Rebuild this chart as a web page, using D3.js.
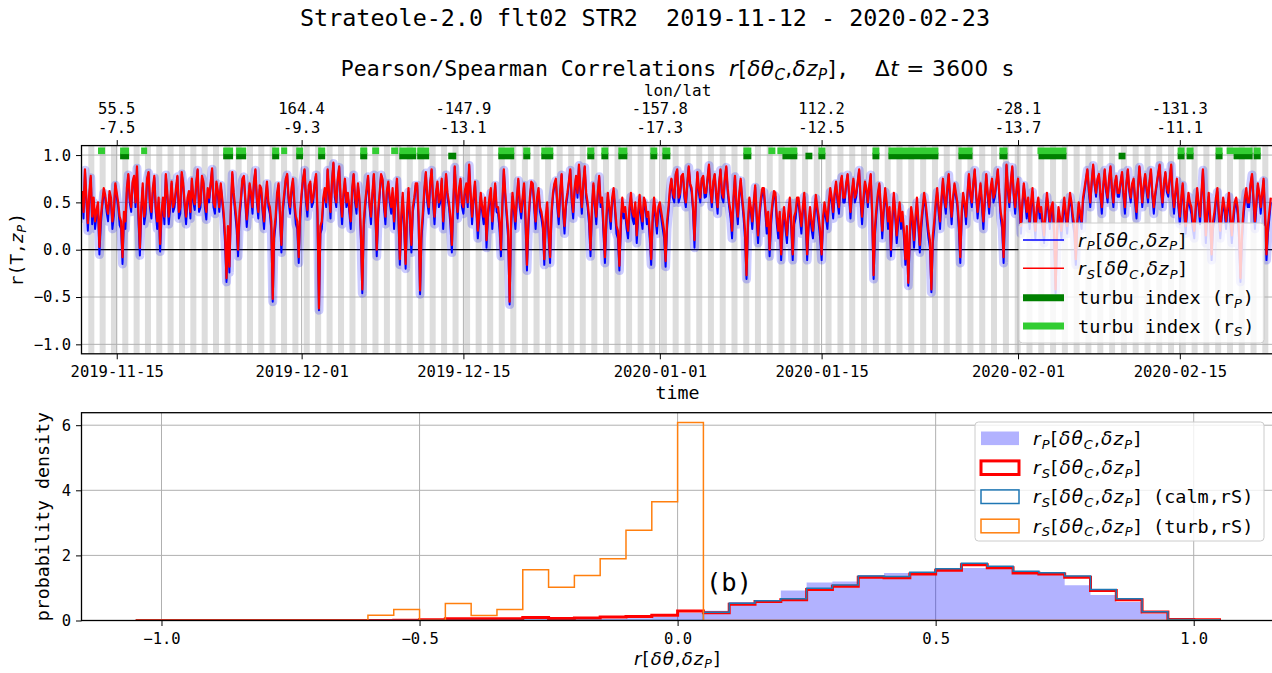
<!DOCTYPE html>
<html>
<head>
<meta charset="utf-8">
<script src="https://cdn.jsdelivr.net/npm/d3@7/dist/d3.min.js"></script>
<style>
  html, body { margin: 0; padding: 0; background: #fff; }
  svg { display: block; }
  svg text { white-space: pre; }
</style>
</head>
<body>
<svg id="fig" width="1272" height="673"></svg>
<script>
// ---------------- data ----------------
// 3-hourly correlation estimates starting 2019-11-12 00:00 UTC (one row = one day)
const seriesStart = "2019-11-12T00:00:00Z";
const seriesStepHours = 3;

// Spearman r_S[δθ_C, δz_P]
const rS = [
  0.62,0.40,0.85,0.55,0.28,0.60,0.78,0.35,
  0.55,0.30,0.42,0.50,0.03,0.35,0.50,0.65,
  0.58,0.45,0.38,0.62,0.55,0.30,0.42,0.70,
  0.60,0.50,0.35,0.30,-0.08,0.40,0.30,0.65,
  0.80,0.55,0.45,0.72,0.78,0.50,0.88,0.40,
  0.02,0.45,0.70,0.35,0.45,0.75,0.82,0.50,
  0.40,0.65,0.78,0.45,0.30,0.55,0.06,0.40,
  0.55,0.35,0.80,0.60,0.35,0.50,0.72,0.45,
  0.50,0.65,0.78,0.40,0.45,0.82,0.70,0.50,
  0.35,0.55,0.62,0.40,0.75,0.55,0.48,0.70,
  0.85,0.45,0.50,0.78,0.72,0.50,0.40,0.65,
  0.55,0.70,0.86,0.50,0.45,0.72,0.62,0.45,
  0.70,0.55,0.40,0.15,-0.30,0.25,-0.18,0.45,
  0.82,0.60,0.45,0.30,0.00,0.40,0.55,0.75,
  0.78,0.55,0.32,0.50,0.70,0.60,0.45,0.72,
  0.85,0.55,0.40,0.68,0.65,0.45,0.30,0.55,
  0.72,0.50,0.45,0.30,-0.52,0.20,0.35,0.60,
  0.70,0.40,0.05,0.45,0.60,0.75,0.80,0.55,
  0.45,0.65,0.75,0.50,0.35,0.30,-0.08,0.40,
  0.60,0.75,0.85,0.55,0.42,0.68,0.72,0.50,
  0.55,0.70,0.80,0.40,-0.62,0.25,0.30,0.55,
  0.65,0.50,0.85,0.60,0.40,0.72,0.92,0.60,
  0.50,0.75,0.88,0.55,0.35,0.60,0.75,0.50,
  0.60,0.45,0.30,0.65,0.80,0.55,0.45,0.70,
  0.55,0.20,-0.42,0.30,0.50,0.65,0.78,0.50,
  0.35,0.60,0.80,0.45,0.00,0.40,0.60,0.80,
  0.75,0.50,0.35,0.62,0.72,0.55,0.45,0.65,
  0.30,0.55,0.75,0.40,-0.10,0.35,0.60,0.30,
  -0.15,0.40,0.65,0.35,0.05,0.45,0.55,0.70,
  0.70,0.35,-0.43,0.20,0.40,0.65,0.82,0.55,
  0.45,0.70,0.85,0.55,0.35,0.60,0.72,0.50,
  0.55,0.75,0.30,0.55,0.80,0.60,0.50,0.35,
  0.05,0.50,0.88,0.60,0.40,0.65,0.75,0.50,
  0.45,0.62,0.70,0.50,0.90,0.60,0.35,0.55,
  0.72,0.45,0.20,0.40,0.60,0.45,0.35,0.55,
  0.10,0.40,0.55,0.65,0.30,0.50,0.70,0.45,
  0.45,0.30,0.00,0.50,0.85,0.60,0.40,0.20,
  -0.55,0.30,0.60,0.45,0.30,0.55,0.75,0.50,
  0.40,0.55,0.70,0.35,-0.16,0.30,0.55,0.72,
  0.70,0.50,0.30,0.55,0.65,0.45,0.40,0.30,
  -0.10,0.35,0.50,0.20,-0.08,0.40,0.60,0.70,
  0.75,0.50,0.35,0.62,0.80,0.45,0.25,0.50,
  0.60,0.72,0.85,0.55,0.40,0.65,0.78,0.60,
  0.90,0.65,0.45,0.70,0.88,0.60,0.50,0.35,
  0.00,0.45,0.70,0.50,0.35,0.60,0.78,0.50,
  0.55,0.25,-0.08,0.35,0.60,0.45,0.30,0.55,
  0.65,0.45,0.25,0.20,-0.17,0.30,0.55,0.40,
  0.45,0.30,0.20,0.45,0.60,0.40,0.35,0.50,
  0.15,0.40,0.58,0.40,0.30,0.55,0.50,0.35,
  0.40,0.20,-0.10,0.35,0.55,0.40,0.25,0.45,
  0.50,0.40,0.30,0.20,-0.12,0.30,0.45,0.65,
  0.75,0.60,0.55,0.80,0.85,0.55,0.60,0.78,
  0.80,0.60,0.50,0.70,0.88,0.70,0.65,0.45,
  0.10,0.55,0.82,0.65,0.55,0.75,0.78,0.60,
  0.60,0.75,0.90,0.65,0.50,0.72,0.80,0.60,
  0.45,0.70,0.85,0.60,0.55,0.75,0.88,0.65,
  0.50,0.40,0.20,0.55,0.78,0.50,0.35,0.60,
  0.75,0.55,0.40,0.20,-0.27,0.30,0.55,0.45,
  0.30,0.50,0.68,0.40,0.15,0.40,0.55,0.65,
  0.65,0.45,0.25,0.40,0.00,0.35,0.50,0.62,
  0.60,0.35,0.20,0.40,-0.05,0.30,0.45,0.30,
  0.15,0.40,0.55,0.30,-0.05,0.35,0.40,0.55,
  0.55,0.40,0.25,0.45,0.60,0.35,-0.05,0.30,
  0.45,0.30,0.20,0.40,0.58,0.45,0.35,0.20,
  -0.05,0.35,0.50,0.40,0.30,0.50,0.65,0.55,
  0.40,0.60,0.72,0.55,0.45,0.70,0.78,0.55,
  0.55,0.70,0.80,0.60,0.40,0.62,0.75,0.55,
  0.60,0.72,0.85,0.55,0.35,0.55,0.72,0.65,
  0.50,0.68,0.80,0.40,-0.27,0.25,0.45,0.60,
  0.70,0.45,0.20,0.45,0.65,0.50,0.30,0.45,
  0.00,0.35,0.60,0.40,0.15,0.35,0.50,0.30,
  0.40,0.20,-0.10,0.25,-0.35,0.15,0.45,0.35,
  0.10,0.35,0.55,0.30,0.05,0.30,0.45,0.60,
  0.50,0.35,0.20,0.10,-0.42,0.15,0.30,0.50,
  0.65,0.45,0.30,0.55,0.75,0.55,0.45,0.65,
  0.80,0.55,0.35,0.55,0.70,0.60,0.50,0.30,
  -0.08,0.40,0.60,0.50,0.35,0.60,0.80,0.60,
  0.50,0.70,0.85,0.60,0.40,0.55,0.70,0.50,
  0.30,0.55,0.80,0.60,0.45,0.65,0.75,0.55,
  0.60,0.72,0.85,0.60,0.40,0.30,-0.08,0.45,
  0.90,0.65,0.50,0.72,0.88,0.60,0.45,0.65,
  0.75,0.50,0.25,0.50,0.70,0.55,0.40,0.55,
  0.30,0.50,0.65,0.40,0.20,0.45,0.55,0.40,
  0.45,0.30,0.15,0.40,0.60,0.45,0.30,0.45,
  0.50,0.20,-0.42,0.20,0.45,0.35,0.20,0.40,
  0.55,0.40,0.25,0.45,0.60,0.50,0.35,0.25,
  -0.10,0.30,0.50,0.40,0.30,0.55,0.65,0.75,
  0.85,0.65,0.50,0.72,0.90,0.70,0.60,0.75,
  0.80,0.60,0.45,0.68,0.85,0.65,0.55,0.75,
  0.88,0.65,0.50,0.70,0.78,0.60,0.60,0.72,
  0.82,0.60,0.45,0.70,0.85,0.65,0.55,0.70,
  0.75,0.55,0.40,0.65,0.88,0.70,0.50,0.68,
  0.80,0.65,0.55,0.72,0.85,0.60,0.45,0.60,
  0.70,0.80,0.90,0.65,0.50,0.70,0.82,0.65,
  0.60,0.75,0.90,0.60,0.45,0.62,0.75,0.50,
  0.35,0.55,0.70,0.45,0.25,0.45,0.60,0.50,
  0.45,0.30,0.20,0.45,0.65,0.50,0.35,0.60,
  0.85,0.50,0.15,0.40,0.60,0.35,-0.05,0.30,
  0.40,0.55,0.65,0.40,0.20,0.40,0.55,0.45,
  0.30,0.45,0.60,0.35,0.15,0.35,0.50,0.55,
  0.45,0.20,-0.30,0.15,0.40,0.55,0.65,0.50,
  0.50,0.70,0.80,0.55,0.30,0.50,0.70,0.60,
  0.45,0.60,0.75,0.40,-0.05,0.25,0.40,0.55
];

// Pearson r_P[δθ_C, δz_P]
const rP = [
  0.60,0.33,0.84,0.50,0.20,0.55,0.76,0.27,
  0.50,0.22,0.36,0.45,-0.05,0.27,0.46,0.60,
  0.55,0.40,0.30,0.58,0.50,0.22,0.36,0.68,
  0.56,0.45,0.26,0.22,-0.15,0.33,0.22,0.60,
  0.79,0.50,0.40,0.70,0.77,0.45,0.86,0.33,
  -0.06,0.40,0.66,0.27,0.38,0.73,0.81,0.45,
  0.33,0.60,0.76,0.40,0.22,0.50,-0.02,0.33,
  0.50,0.27,0.79,0.55,0.27,0.45,0.70,0.40,
  0.45,0.60,0.77,0.33,0.38,0.80,0.67,0.45,
  0.27,0.50,0.58,0.33,0.73,0.50,0.42,0.68,
  0.84,0.40,0.45,0.76,0.70,0.45,0.32,0.60,
  0.50,0.68,0.85,0.45,0.38,0.70,0.58,0.40,
  0.68,0.50,0.33,0.07,-0.34,0.17,-0.24,0.40,
  0.80,0.55,0.38,0.22,-0.07,0.33,0.50,0.73,
  0.77,0.50,0.24,0.45,0.68,0.55,0.38,0.70,
  0.84,0.50,0.33,0.64,0.61,0.40,0.22,0.50,
  0.70,0.45,0.38,0.22,-0.55,0.12,0.27,0.55,
  0.68,0.33,-0.03,0.40,0.55,0.73,0.79,0.50,
  0.38,0.60,0.73,0.45,0.27,0.22,-0.14,0.33,
  0.56,0.73,0.84,0.50,0.35,0.64,0.70,0.45,
  0.50,0.68,0.79,0.33,-0.64,0.17,0.22,0.50,
  0.61,0.45,0.84,0.55,0.33,0.70,0.91,0.55,
  0.45,0.73,0.87,0.50,0.27,0.55,0.73,0.45,
  0.56,0.40,0.22,0.60,0.79,0.50,0.38,0.68,
  0.50,0.12,-0.46,0.22,0.45,0.60,0.77,0.45,
  0.27,0.55,0.79,0.40,-0.07,0.33,0.56,0.79,
  0.73,0.45,0.27,0.58,0.70,0.50,0.38,0.60,
  0.22,0.50,0.73,0.33,-0.16,0.27,0.56,0.22,
  -0.20,0.33,0.61,0.27,-0.03,0.40,0.50,0.68,
  0.68,0.27,-0.47,0.12,0.33,0.60,0.81,0.50,
  0.38,0.68,0.84,0.50,0.27,0.55,0.70,0.45,
  0.50,0.73,0.22,0.50,0.79,0.55,0.45,0.27,
  -0.03,0.45,0.87,0.55,0.33,0.60,0.73,0.45,
  0.38,0.58,0.68,0.45,0.89,0.55,0.27,0.50,
  0.70,0.40,0.12,0.33,0.56,0.40,0.27,0.50,
  0.02,0.33,0.50,0.60,0.22,0.45,0.68,0.40,
  0.38,0.22,-0.07,0.45,0.84,0.55,0.33,0.12,
  -0.58,0.22,0.56,0.40,0.22,0.50,0.73,0.45,
  0.33,0.50,0.68,0.27,-0.22,0.22,0.50,0.70,
  0.68,0.45,0.22,0.50,0.61,0.40,0.33,0.22,
  -0.16,0.27,0.45,0.12,-0.14,0.33,0.56,0.68,
  0.73,0.45,0.27,0.58,0.79,0.40,0.17,0.45,
  0.56,0.70,0.84,0.50,0.33,0.60,0.77,0.55,
  0.89,0.60,0.38,0.68,0.87,0.55,0.45,0.27,
  -0.07,0.40,0.68,0.45,0.27,0.55,0.77,0.45,
  0.50,0.17,-0.14,0.27,0.56,0.40,0.22,0.50,
  0.61,0.40,0.17,0.12,-0.22,0.22,0.50,0.33,
  0.38,0.22,0.12,0.40,0.56,0.33,0.27,0.45,
  0.07,0.33,0.53,0.33,0.22,0.50,0.45,0.27,
  0.33,0.12,-0.16,0.27,0.50,0.33,0.17,0.40,
  0.45,0.33,0.22,0.12,-0.18,0.22,0.40,0.60,
  0.74,0.55,0.50,0.79,0.84,0.50,0.56,0.77,
  0.79,0.55,0.45,0.68,0.87,0.68,0.61,0.40,
  0.02,0.50,0.81,0.60,0.50,0.73,0.77,0.55,
  0.56,0.73,0.89,0.60,0.45,0.70,0.79,0.55,
  0.38,0.68,0.84,0.55,0.50,0.73,0.87,0.60,
  0.45,0.33,0.12,0.50,0.77,0.45,0.27,0.55,
  0.73,0.50,0.33,0.12,-0.31,0.22,0.50,0.40,
  0.22,0.45,0.66,0.33,0.07,0.33,0.50,0.60,
  0.61,0.40,0.17,0.33,-0.07,0.27,0.45,0.58,
  0.56,0.27,0.12,0.33,-0.11,0.22,0.40,0.22,
  0.07,0.33,0.50,0.22,-0.11,0.27,0.33,0.50,
  0.50,0.33,0.17,0.40,0.56,0.27,-0.11,0.22,
  0.38,0.22,0.12,0.33,0.54,0.40,0.27,0.12,
  -0.11,0.27,0.45,0.33,0.22,0.45,0.61,0.50,
  0.33,0.56,0.70,0.50,0.38,0.68,0.77,0.50,
  0.50,0.68,0.79,0.56,0.33,0.58,0.73,0.50,
  0.56,0.70,0.84,0.50,0.27,0.50,0.70,0.61,
  0.45,0.64,0.79,0.33,-0.31,0.17,0.38,0.56,
  0.68,0.40,0.12,0.40,0.61,0.45,0.22,0.40,
  -0.07,0.27,0.56,0.33,0.07,0.27,0.45,0.22,
  0.33,0.12,-0.16,0.17,-0.38,0.07,0.40,0.27,
  0.02,0.27,0.50,0.22,-0.03,0.22,0.40,0.56,
  0.45,0.27,0.12,0.02,-0.45,0.07,0.22,0.45,
  0.61,0.40,0.22,0.50,0.73,0.50,0.38,0.61,
  0.79,0.50,0.27,0.50,0.68,0.56,0.45,0.22,
  -0.14,0.33,0.56,0.45,0.27,0.56,0.79,0.56,
  0.45,0.68,0.84,0.56,0.33,0.50,0.68,0.45,
  0.22,0.50,0.79,0.56,0.38,0.61,0.73,0.50,
  0.56,0.70,0.84,0.56,0.33,0.22,-0.14,0.40,
  0.89,0.61,0.45,0.70,0.87,0.56,0.38,0.61,
  0.73,0.45,0.17,0.45,0.68,0.50,0.33,0.50,
  0.22,0.45,0.61,0.33,0.12,0.40,0.50,0.33,
  0.38,0.22,0.07,0.33,0.56,0.40,0.22,0.40,
  0.45,0.12,-0.46,0.12,0.38,0.27,0.12,0.33,
  0.50,0.33,0.17,0.40,0.56,0.45,0.27,0.17,
  -0.16,0.22,0.45,0.33,0.22,0.50,0.61,0.73,
  0.84,0.61,0.45,0.70,0.89,0.68,0.56,0.73,
  0.79,0.56,0.38,0.64,0.84,0.61,0.50,0.73,
  0.87,0.61,0.45,0.68,0.77,0.56,0.56,0.70,
  0.81,0.56,0.38,0.68,0.84,0.61,0.50,0.68,
  0.73,0.50,0.33,0.61,0.87,0.68,0.45,0.64,
  0.79,0.61,0.50,0.70,0.84,0.56,0.38,0.56,
  0.68,0.79,0.89,0.61,0.45,0.68,0.81,0.61,
  0.56,0.73,0.89,0.56,0.38,0.58,0.73,0.45,
  0.27,0.50,0.68,0.40,0.17,0.40,0.56,0.45,
  0.38,0.22,0.12,0.40,0.61,0.45,0.27,0.56,
  0.84,0.45,0.07,0.33,0.56,0.27,-0.11,0.22,
  0.33,0.50,0.61,0.33,0.12,0.33,0.50,0.40,
  0.22,0.40,0.56,0.27,0.07,0.27,0.45,0.50,
  0.38,0.12,-0.34,0.07,0.33,0.50,0.61,0.45,
  0.45,0.68,0.79,0.50,0.22,0.45,0.68,0.56,
  0.38,0.56,0.73,0.33,-0.11,0.17,0.33,0.50
];

// turbulence episodes, [start, end] in days since 2019-11-12 00:00 UTC
const turbRP = [
  [3.29,4.07],[12.21,13.07],[13.33,14.20],[16.45,17.06],[18.53,19.13],[20.43,21.04],
  [24.07,24.68],[27.45,28.92],[29.00,30.04],[31.69,32.38],[36.02,37.40],[38.18,38.79],
  [39.74,40.78],[43.72,44.33],[44.94,45.54],[46.41,47.19],[49.18,49.78],[50.22,50.91],
  [57.23,57.92],[60.61,61.90],[62.60,63.20],[63.72,64.33],[68.40,69.00],[69.78,74.11],
  [75.84,77.06],[79.39,80.09],[82.77,85.19],[89.70,90.30],[94.81,95.41],[95.58,96.19],
  [98.10,98.70],[99.65,101.30],[101.39,102.00]
];
const turbRS = [
  [1.38,1.99],[3.29,4.07],[5.11,5.63],[12.21,13.07],[13.33,14.20],[16.45,17.06],
  [17.23,17.75],[18.53,19.13],[20.43,21.04],[24.07,24.68],[25.11,25.71],[26.75,27.36],
  [27.45,28.92],[29.00,30.04],[36.02,37.40],[38.18,38.79],[39.74,40.78],[43.72,44.33],
  [44.94,45.54],[46.41,47.19],[49.18,49.78],[50.22,50.91],[57.23,57.92],[59.39,60.00],
  [60.17,61.90],[63.72,64.33],[68.40,69.00],[69.78,74.11],[75.84,77.06],[79.39,80.09],
  [82.68,85.19],[94.81,95.41],[95.58,96.19],[98.10,98.70],[99.05,101.30],[101.39,102.00]
];

// night-time periods at the balloon position (start, days since 2019-11-12 00:00 UTC)
const nightStart = [
  0.54,1.52,2.50,3.48,4.46,5.44,6.42,7.40,8.39,9.37,10.35,11.33,12.31,13.29,14.27,15.25,
  16.23,17.22,18.20,19.18,20.17,21.16,22.15,23.14,24.14,25.13,26.12,27.11,28.10,29.09,
  30.08,31.07,32.06,33.06,34.06,35.06,36.06,37.06,38.06,39.07,40.07,41.07,42.07,43.07,
  44.07,45.08,46.08,47.08,48.08,49.08,50.09,51.11,52.13,53.15,54.16,55.18,56.20,57.22,
  58.23,59.25,60.27,61.29,62.31,63.32,64.34,65.37,66.39,67.41,68.44,69.46,70.48,71.50,
  72.53,73.55,74.57,75.60,76.62,77.64,78.66,79.69,80.71,81.73,82.75,83.77,84.79,85.81,
  86.83,87.86,88.88,89.90,90.92,91.94,92.96,93.98,95.00,96.02,97.04,98.06,99.08,100.10,
  101.12,102.14
];
const nightLength = 0.52;

// time axis ticks and balloon position at those dates
const dateTicks = ["2019-11-15","2019-12-01","2019-12-15","2020-01-01","2020-01-15","2020-02-01","2020-02-15"];
const lonLabels = ["55.5","164.4","-147.9","-157.8","112.2","-28.1","-131.3"];
const latLabels = ["-7.5","-9.3","-13.1","-17.3","-12.5","-13.7","-11.1"];
const rTicks = [-1.0, -0.5, 0.0, 0.5, 1.0];

// histograms (probability density), bins of 0.05 from -1.05 to 1.05
const histEdges = [
  -1.05,-1.00,-0.95,-0.90,-0.85,-0.80,-0.75,-0.70,-0.65,-0.60,-0.55,-0.50,-0.45,-0.40,-0.35,
  -0.30,-0.25,-0.20,-0.15,-0.10,-0.05,0.00,0.05,0.10,0.15,0.20,0.25,0.30,0.35,0.40,0.45,
  0.50,0.55,0.60,0.65,0.70,0.75,0.80,0.85,0.90,0.95,1.00,1.05
];
const pdfRP = [
  0,0,0,0,0,0,0,0,0,0.00,0.01,0.02,0.03,0.02,0.03,0.04,0.03,0.04,0.05,0.07,0.12,
  0.24,0.30,0.57,0.62,0.92,1.17,1.20,1.40,1.46,1.49,1.52,1.61,1.58,1.48,1.45,1.08,0.78,0.57,0.21,0.02,0.00
];
const pdfRS = [
  0,0,0,0,0,0,0,0,0,0.00,0.01,0.02,0.05,0.05,0.05,0.09,0.06,0.08,0.11,0.12,0.16,
  0.29,0.24,0.50,0.58,0.64,0.95,1.05,1.33,1.31,1.43,1.54,1.71,1.62,1.46,1.43,1.33,0.92,0.64,0.26,0.03,0.02
];
const pdfCalm = [
  0,0,0,0,0,0,0,0,0,0,0,0,0,0,0,0,0,0,0,0,0,
  0,0.25,0.53,0.61,0.67,0.99,1.09,1.37,1.35,1.48,1.59,1.76,1.67,1.51,1.47,1.37,0.95,0.67,0.27,0.03,0.02
];
const pdfTurb = [
  0,0,0,0,0,0,0,0,0,0.16,0.34,0.00,0.52,0.15,0.34,1.56,1.02,1.38,1.90,2.77,3.65,
  6.08,0,0,0,0,0,0,0,0,0,0,0,0,0,0,0,0,0,0,0,0
];
const corrTicks = [-1.0, -0.5, 0.0, 0.5, 1.0];
const densTicks = [0, 2, 4, 6];

// ---------------- drawing ----------------
const fig = d3.select("#fig");
const MONO = "DejaVu Sans Mono", MATH = "DejaVu Sans";
const GRID = "#b0b0b0";

const A1 = {l: 81.5, r: 1273.7, t: 145.6, b: 353.8};
const A2 = {l: 81.5, r: 1273.7, t: 412.7, b: 620.5};

const origin = Date.parse(seriesStart);
const DAY = 864e5;
const atDay = d => new Date(origin + d * DAY);
const parseDay = d3.utcParse("%Y-%m-%d");

const xT = d3.scaleUtc()
  .domain([new Date(Date.UTC(2019, 10, 11, 22, 48)), new Date(Date.UTC(2020, 1, 23, 3, 0))])
  .range([A1.l, A1.r]);
const yR = d3.scaleLinear().domain([-1.1, 1.1]).range([A1.b, A1.t]);
const xH = d3.scaleLinear().domain([-1.155, 1.155]).range([A2.l, A2.r]);
const yH = d3.scaleLinear().domain([0, 6.384]).range([A2.b, A2.t]);

// rich text: segments of monospace / math (DejaVu Sans) with italics and subscripts
function rich(text, segs, size, spacing = 0.06) {
  let shift = 0;
  segs.forEach(s => {
    const ts = text.append("tspan").text(s.t)
      .attr("font-family", s.m ? MATH : MONO)
      .attr("font-style", s.i ? "italic" : "normal")
      .attr("font-size", s.sub ? size * 0.7 : size);
    if (s.m) ts.attr("letter-spacing", (size * spacing).toFixed(2));
    const target = s.sub ? size * 0.2 : 0;
    if (target !== shift) { ts.attr("dy", target - shift); shift = target; }
  });
  return text;
}
const corrLabel = sub => {
  const head = [{t: "r", m: 1, i: 1}];
  if (sub) head.push({t: sub, m: 1, i: 1, sub: 1});
  return head.concat([
    {t: "[", m: 1}, {t: "δθ", m: 1, i: 1}, {t: "C", m: 1, i: 1, sub: 1},
    {t: ",", m: 1}, {t: "δz", m: 1, i: 1}, {t: "P", m: 1, i: 1, sub: 1}, {t: "]", m: 1}
  ]);
};

function styleAxis(g, size) {
  g.select(".domain").remove();
  g.attr("font-family", MONO).attr("font-size", size);
  g.selectAll(".tick line").attr("stroke", "#000").attr("stroke-width", 1);
  g.selectAll(".tick text").attr("fill", "#000");
}

// ---- titles ----
fig.append("text").attr("x", 645).attr("y", 26).attr("text-anchor", "middle")
  .attr("font-family", MONO).attr("font-size", 23.4)
  .text("Strateole-2.0 flt02 STR2  2019-11-12 - 2020-02-23");

rich(fig.append("text").attr("x", (A1.l + A1.r) / 2).attr("y", 75.5).attr("text-anchor", "middle"),
  [{t: "Pearson/Spearman Correlations "}].concat(corrLabel(null)).concat([
    {t: ",  "}, {t: "Δ", m: 1}, {t: "t", m: 1, i: 1}, {t: " = 3600", m: 1}, {t: " s"}
  ]), 21.5, 0.02);

// ---- top panel: time series ----
const defs = fig.append("defs");
defs.append("clipPath").attr("id", "clipTop").append("rect")
  .attr("x", A1.l).attr("y", A1.t).attr("width", A1.r - A1.l).attr("height", A1.b - A1.t);
defs.append("clipPath").attr("id", "clipBot").append("rect")
  .attr("x", A2.l).attr("y", A2.t).attr("width", A2.r - A2.l).attr("height", A2.b - A2.t);

const gTop = fig.append("g").attr("clip-path", "url(#clipTop)");

// night shading
gTop.selectAll("rect.night").data(nightStart).join("rect").attr("class", "night")
  .attr("x", d => xT(atDay(d)))
  .attr("width", d => xT(atDay(d + nightLength)) - xT(atDay(d)))
  .attr("y", A1.t).attr("height", A1.b - A1.t)
  .attr("fill", "#dddddd");

const dateVals = dateTicks.map(parseDay);
// grid
gTop.selectAll("line.gx").data(dateVals).join("line")
  .attr("x1", d => xT(d)).attr("x2", d => xT(d)).attr("y1", A1.t).attr("y2", A1.b)
  .attr("stroke", GRID).attr("stroke-width", 1);
gTop.selectAll("line.gy").data(rTicks).join("line")
  .attr("x1", A1.l).attr("x2", A1.r).attr("y1", d => yR(d)).attr("y2", d => yR(d))
  .attr("stroke", GRID).attr("stroke-width", 1);
gTop.append("line").attr("x1", A1.l).attr("x2", A1.r).attr("y1", yR(0)).attr("y2", yR(0))
  .attr("stroke", "#000").attr("stroke-width", 1.3);

const times = rS.map((_, i) => new Date(origin + i * seriesStepHours * 3600e3));
const line = d3.line().x((d, i) => xT(times[i])).y(d => yR(d));

// uncertainty halo around r_P
gTop.append("path").attr("d", line(rP)).attr("fill", "none")
  .attr("stroke", "rgba(0,0,255,0.2)").attr("stroke-width", 9)
  .attr("stroke-linejoin", "round").attr("stroke-linecap", "round");
gTop.append("path").attr("d", line(rP)).attr("fill", "none")
  .attr("stroke", "#0000ff").attr("stroke-width", 2.0).attr("stroke-linejoin", "round");
gTop.append("path").attr("d", line(rS)).attr("fill", "none")
  .attr("stroke", "#ff0000").attr("stroke-width", 2.2).attr("stroke-linejoin", "round");

// turbulence index markers
const turbBlocks = (data, level, color) => gTop.append("g").selectAll("rect").data(data).join("rect")
  .attr("x", d => xT(atDay(d[0])))
  .attr("width", d => xT(atDay(d[1])) - xT(atDay(d[0])))
  .attr("y", yR(level) - 3.3).attr("height", 6.6).attr("fill", color);
turbBlocks(turbRP, 0.99, "#008000");
turbBlocks(turbRS, 1.045, "#32cd32");

// axes
fig.append("g").attr("transform", `translate(0,${A1.b})`)
  .call(d3.axisBottom(xT).tickValues(dateVals).tickFormat(d3.utcFormat("%Y-%m-%d")).tickSize(5.5).tickPadding(7))
  .call(g => styleAxis(g, 15.5));
fig.append("g").attr("transform", `translate(0,${A1.t})`)
  .call(d3.axisTop(xT).tickValues(dateVals).tickFormat(() => "").tickSize(5.5))
  .call(g => styleAxis(g, 15.5));
fig.append("g").attr("transform", `translate(${A1.l},0)`)
  .call(d3.axisLeft(yR).tickValues(rTicks).tickFormat(d3.format(".1f")).tickSize(5.5).tickPadding(5))
  .call(g => styleAxis(g, 15.5));

dateVals.forEach((d, i) => {
  const t = fig.append("text").attr("text-anchor", "middle")
    .attr("font-family", MONO).attr("font-size", 15.5);
  t.append("tspan").attr("x", xT(d)).attr("y", 114).text(lonLabels[i]);
  t.append("tspan").attr("x", xT(d)).attr("y", 133).text(latLabels[i]);
});
fig.append("text").attr("x", (A1.l + A1.r) / 2).attr("y", 96).attr("text-anchor", "middle")
  .attr("font-family", MONO).attr("font-size", 16).text("lon/lat");
fig.append("text").attr("x", (A1.l + A1.r) / 2).attr("y", 399).attr("text-anchor", "middle")
  .attr("font-family", MONO).attr("font-size", 18.3).text("time");
rich(fig.append("text").attr("transform", `translate(22.5,${(A1.t + A1.b) / 2}) rotate(-90)`)
  .attr("text-anchor", "middle"),
  [{t: "r(T,"}, {t: "z", m: 1, i: 1}, {t: "P", m: 1, i: 1, sub: 1}, {t: ")"}], 18);

fig.append("rect").attr("x", A1.l).attr("y", A1.t).attr("width", A1.r - A1.l).attr("height", A1.b - A1.t)
  .attr("fill", "none").attr("stroke", "#000").attr("stroke-width", 1.3);

// legend (top)
{
  const g = fig.append("g");
  g.append("rect").attr("x", 1019).attr("y", 223).attr("width", 245).attr("height", 120).attr("rx", 3.5)
    .attr("fill", "rgba(255,255,255,0.8)").attr("stroke", "#cccccc").attr("stroke-width", 1);
  const rows = [
    {c: "#0000ff", w: 1.5, lab: corrLabel("P")},
    {c: "#ff0000", w: 1.5, lab: corrLabel("S")},
    {c: "#008000", w: 7, lab: [{t: "turbu index (r"}, {t: "P", m: 1, i: 1, sub: 1}, {t: ")"}]},
    {c: "#32cd32", w: 7, lab: [{t: "turbu index (r"}, {t: "S", m: 1, i: 1, sub: 1}, {t: ")"}]}
  ];
  const ys = [240, 268.3, 297.7, 326];
  rows.forEach((r, i) => {
    g.append("line").attr("x1", 1023).attr("x2", 1064).attr("y1", ys[i]).attr("y2", ys[i])
      .attr("stroke", r.c).attr("stroke-width", r.w);
    rich(g.append("text").attr("x", 1078).attr("y", ys[i] + 6.5), r.lab, 18.5);
  });
}

// ---- bottom panel: histograms ----
const gBot = fig.append("g").attr("clip-path", "url(#clipBot)");
gBot.selectAll("line.hx").data(corrTicks).join("line")
  .attr("x1", d => xH(d)).attr("x2", d => xH(d)).attr("y1", A2.t).attr("y2", A2.b)
  .attr("stroke", GRID).attr("stroke-width", 1);
gBot.selectAll("line.hy").data(densTicks).join("line")
  .attr("x1", A2.l).attr("x2", A2.r).attr("y1", d => yH(d)).attr("y2", d => yH(d))
  .attr("stroke", GRID).attr("stroke-width", 1);

const stepPoints = vals => {
  const pts = [[histEdges[0], 0]];
  vals.forEach((v, i) => { pts.push([histEdges[i], v]); pts.push([histEdges[i + 1], v]); });
  pts.push([histEdges[histEdges.length - 1], 0]);
  return pts;
};
const hLine = d3.line().x(d => xH(d[0])).y(d => yH(d[1]));

gBot.append("path").attr("d", hLine(stepPoints(pdfRP)) + "Z").attr("fill", "rgba(0,0,255,0.3)").attr("stroke", "none");
gBot.append("path").attr("d", hLine(stepPoints(pdfRS))).attr("fill", "none")
  .attr("stroke", "#ff0000").attr("stroke-width", 3).attr("stroke-linejoin", "miter");
gBot.append("path").attr("d", hLine(stepPoints(pdfCalm))).attr("fill", "none")
  .attr("stroke", "#1f77b4").attr("stroke-width", 1.5);
gBot.append("path").attr("d", hLine(stepPoints(pdfTurb))).attr("fill", "none")
  .attr("stroke", "#ff7f0e").attr("stroke-width", 1.5);

fig.append("g").attr("transform", `translate(0,${A2.b})`)
  .call(d3.axisBottom(xH).tickValues(corrTicks).tickFormat(d3.format(".1f")).tickSize(5.5).tickPadding(7))
  .call(g => styleAxis(g, 15.5));
fig.append("g").attr("transform", `translate(${A2.l},0)`)
  .call(d3.axisLeft(yH).tickValues(densTicks).tickFormat(d3.format("d")).tickSize(5.5).tickPadding(5))
  .call(g => styleAxis(g, 15.5));

fig.append("rect").attr("x", A2.l).attr("y", A2.t).attr("width", A2.r - A2.l).attr("height", A2.b - A2.t)
  .attr("fill", "none").attr("stroke", "#000").attr("stroke-width", 1.3);

fig.append("text").attr("x", 706).attr("y", 591).attr("font-family", MONO).attr("font-size", 25.5).text("(b)");

rich(fig.append("text").attr("x", (A2.l + A2.r) / 2).attr("y", 664.5).attr("text-anchor", "middle"),
  [{t: "r", m: 1, i: 1}, {t: "[", m: 1}, {t: "δθ", m: 1, i: 1}, {t: ",", m: 1},
   {t: "δz", m: 1, i: 1}, {t: "P", m: 1, i: 1, sub: 1}, {t: "]", m: 1}], 18);
fig.append("text").attr("transform", `translate(48.6,${(A2.t + A2.b) / 2}) rotate(-90)`)
  .attr("text-anchor", "middle").attr("font-family", MONO).attr("font-size", 18.3)
  .text("probability density");

// legend (bottom)
{
  const g = fig.append("g");
  g.append("rect").attr("x", 975).attr("y", 422).attr("width", 289).attr("height", 119).attr("rx", 3.5)
    .attr("fill", "rgba(255,255,255,0.8)").attr("stroke", "#cccccc").attr("stroke-width", 1);
  const rows = [
    {fill: "rgba(0,0,255,0.3)", stroke: "none", w: 0, lab: corrLabel("P")},
    {fill: "none", stroke: "#ff0000", w: 3, lab: corrLabel("S")},
    {fill: "none", stroke: "#1f77b4", w: 1.5, lab: corrLabel("S").concat([{t: " (calm,rS)"}])},
    {fill: "none", stroke: "#ff7f0e", w: 1.5, lab: corrLabel("S").concat([{t: " (turb,rS)"}])}
  ];
  const ys = [438.3, 467.7, 496.7, 526];
  rows.forEach((r, i) => {
    g.append("rect").attr("x", 981).attr("y", ys[i] - 6.8).attr("width", 38).attr("height", 13.6)
      .attr("fill", r.fill).attr("stroke", r.stroke).attr("stroke-width", r.w);
    rich(g.append("text").attr("x", 1033).attr("y", ys[i] + 6.5), r.lab, 18.5);
  });
}
</script>
</body>
</html>
